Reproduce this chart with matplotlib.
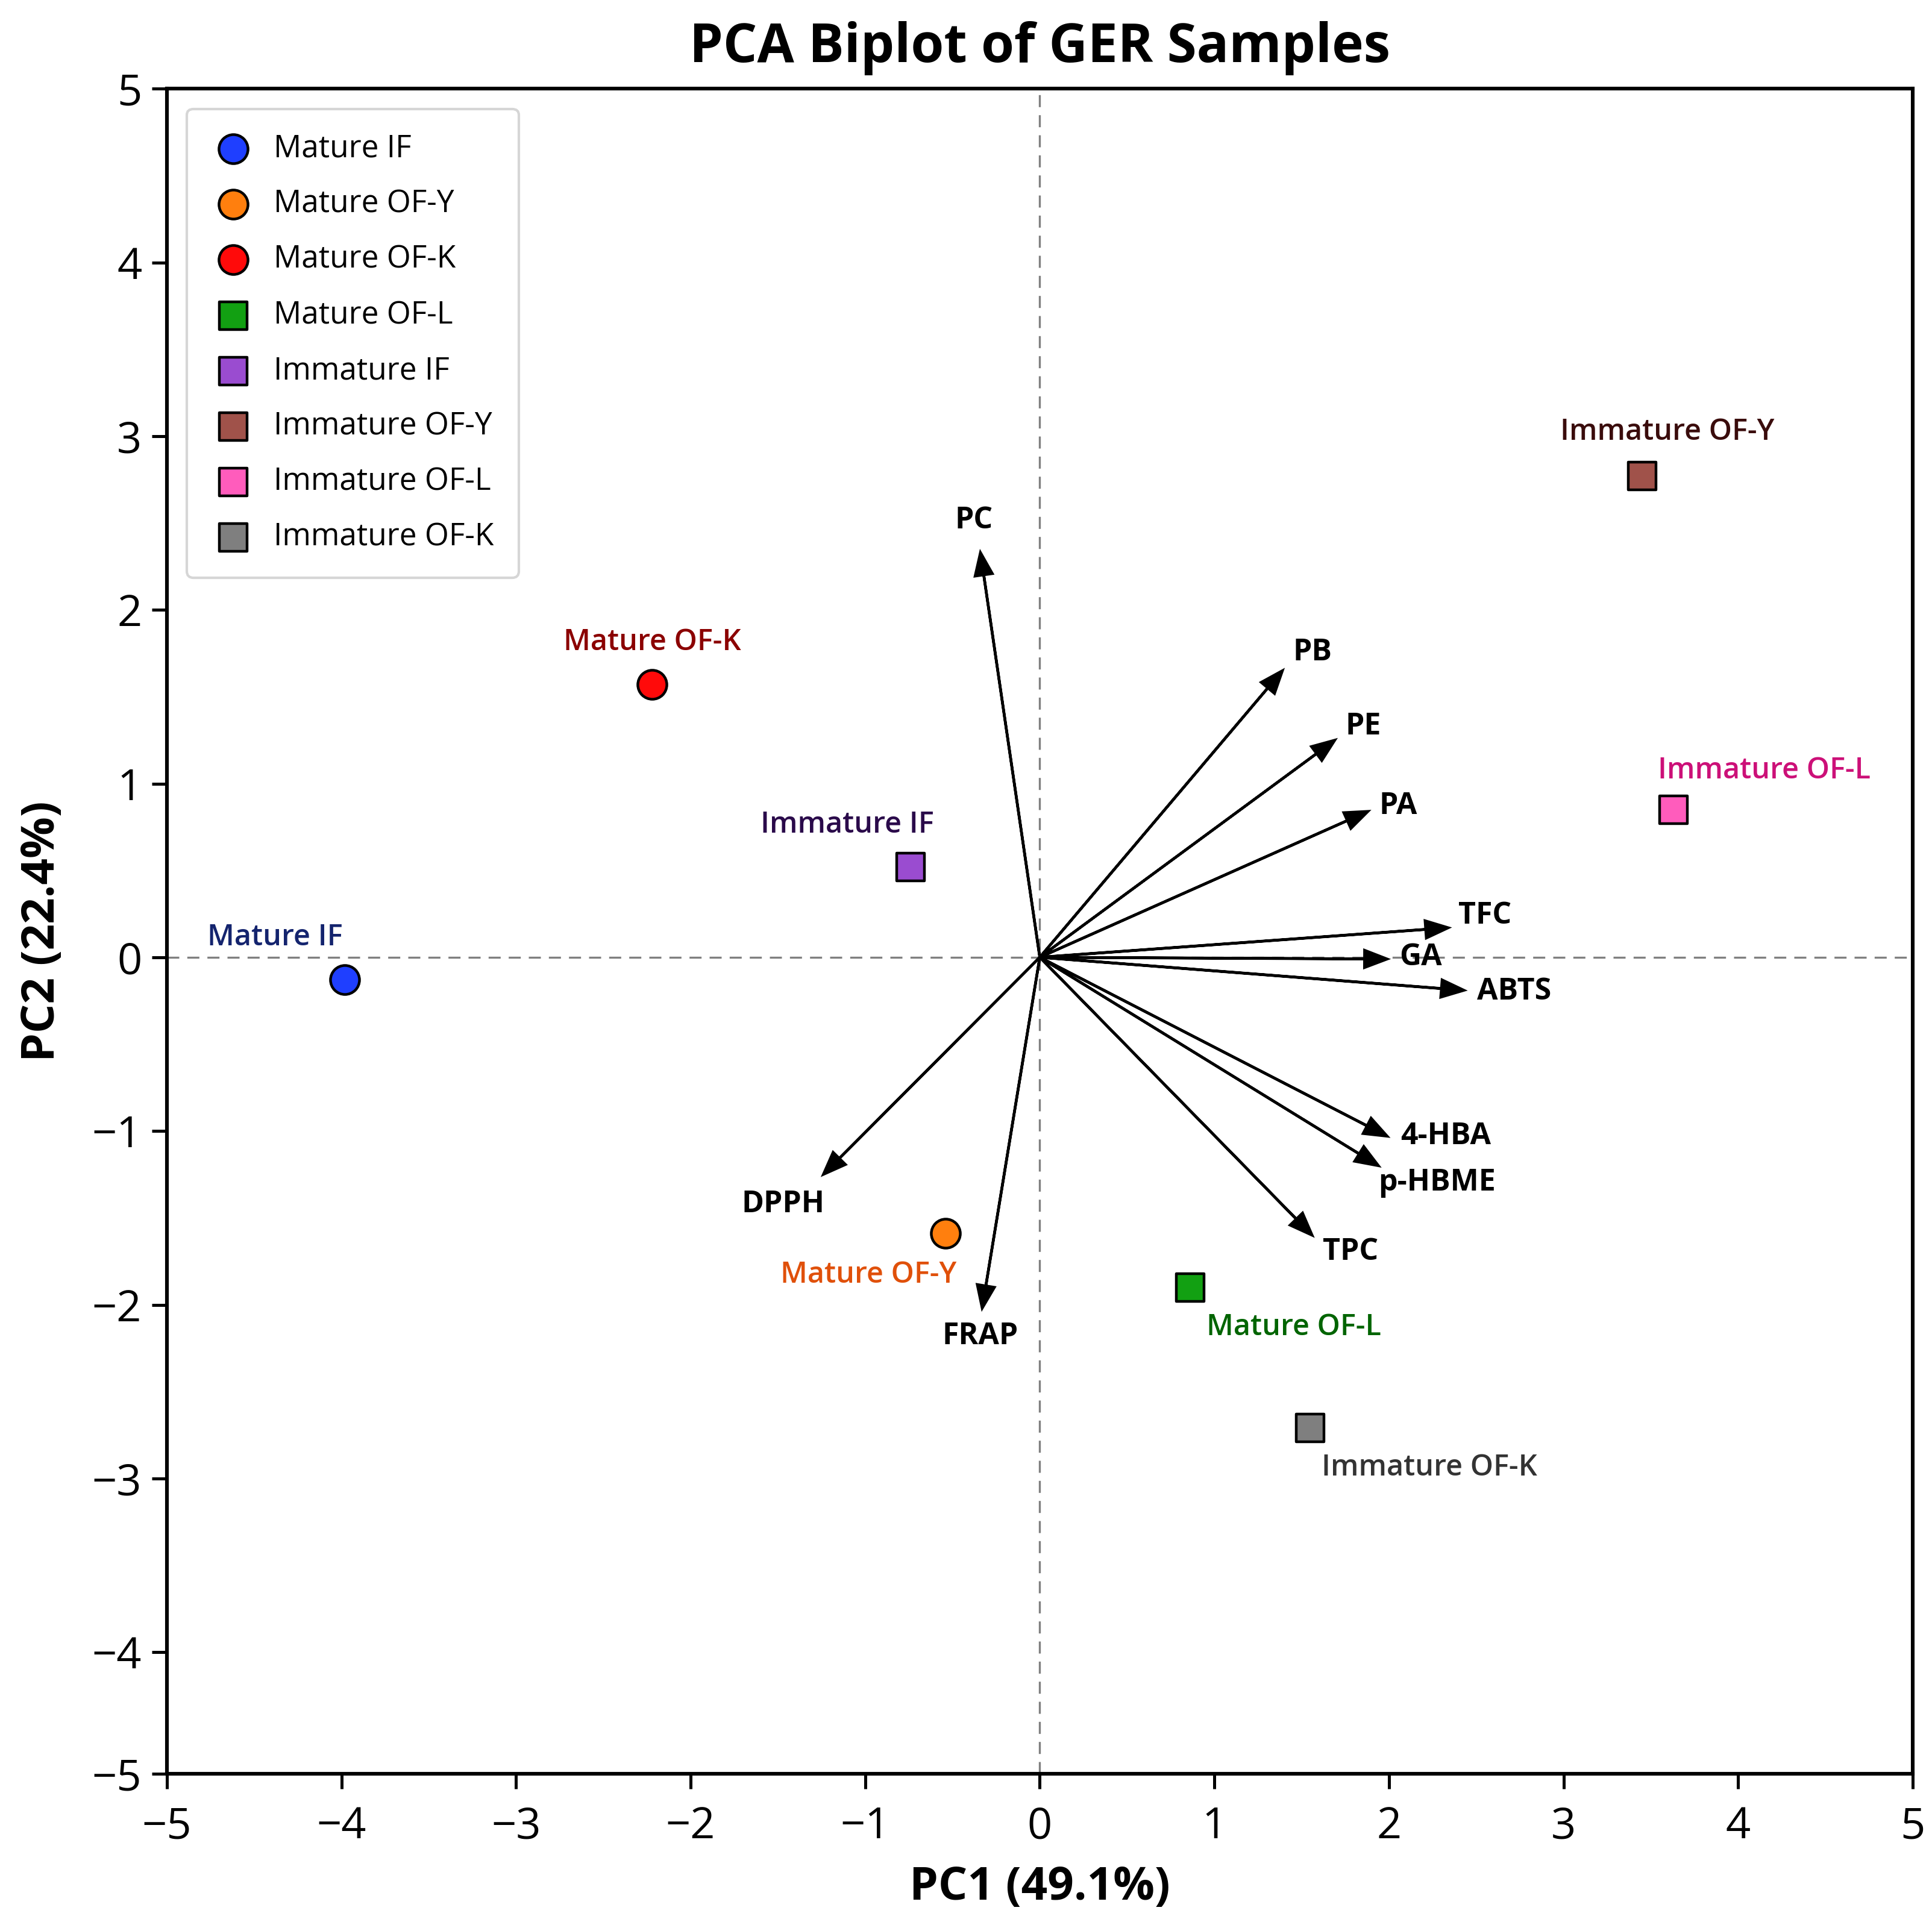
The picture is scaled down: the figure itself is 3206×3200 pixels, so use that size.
import matplotlib.pyplot as plt
import numpy as np

plt.rcParams['font.family'] = ['Open Sans', 'DejaVu Sans']

# sample scores (PC1, PC2)
samples = ['Mature IF', 'Mature OF-Y', 'Mature OF-K', 'Mature OF-L',
           'Immature IF', 'Immature OF-Y', 'Immature OF-L', 'Immature OF-K']
pc1 = [-3.98, -0.54, -2.22, 0.86, -0.74, 3.45, 3.63, 1.55]
pc2 = [-0.13, -1.59, 1.57, -1.90, 0.52, 2.77, 0.85, -2.71]

# variable loadings (scaled)
variables = ['PC', 'PB', 'PE', 'PA', 'TFC', 'GA', 'ABTS', '4-HBA', 'p-HBME', 'TPC', 'DPPH', 'FRAP']
load1 = [-0.34, 1.39, 1.69, 1.88, 2.34, 1.99, 2.43, 1.99, 1.94, 1.56, -1.24, -0.33]
load2 = [2.33, 1.65, 1.25, 0.84, 0.17, -0.01, -0.19, -1.03, -1.20, -1.60, -1.25, -2.02]

pc1_var = 49.1
pc2_var = 22.4

# styling
markers = ['o', 'o', 'o', 's', 's', 's', 's', 's']
face_colors = ['#1f3fff', '#ff7f0e', '#ff0a0a', '#12a012',
               '#9a4cd0', '#a0524a', '#ff5cbc', '#7f7f7f']
text_colors = ['#14246e', '#e0500a', '#8b0000', '#006400',
               '#2a0a4a', '#3a0c0c', '#cc1078', '#333333']
# label offsets in points (sample labels)
sample_offsets = [(-42, 25), (-46, -25), (0, 25), (62, -24),
                  (-38, 25), (15, 26), (54, 23), (71, -24)]
# label offsets in points (arrow labels)
var_offsets = [(-4, 19), (18, 11), (17, 8), (18, 3), (22, 7), (20, 1),
               (30, -1), (35, 0), (35, -10), (23, -10), (-24, -18), (-1, -17)]

fig = plt.figure(figsize=(16.03, 16), dpi=200)
ax = fig.add_axes([0.0864, 0.08, 0.9036, 0.874])

ax.axhline(0, color='gray', linestyle='--', linewidth=1.2, dashes=(6, 4), zorder=1)
ax.axvline(0, color='gray', linestyle='--', linewidth=1.2, dashes=(6, 4), zorder=1)

for i, name in enumerate(samples):
    ax.scatter(pc1[i], pc2[i], marker=markers[i], s=300 if markers[i] == 'o' else 270,
               c=face_colors[i], edgecolors='black', linewidths=1.6, label=name, zorder=4)
    ax.annotate(name, (pc1[i], pc2[i]), xytext=sample_offsets[i], textcoords='offset points',
                ha='center', va='center', fontsize=17.5, color=text_colors[i],
                fontweight='semibold', zorder=5)

for j, var in enumerate(variables):
    ax.arrow(0, 0, load1[j], load2[j], color='black', linewidth=1.6,
             head_width=0.1, head_length=0.13, length_includes_head=True, zorder=3)
    ax.annotate(var, (load1[j], load2[j]), xytext=var_offsets[j], textcoords='offset points',
                ha='center', va='center', fontsize=18, fontweight='bold', color='black', zorder=5)

ax.set_xlim(-5, 5)
ax.set_ylim(-4.7, 5)
ax.set_xticks(range(-5, 6))
ax.set_xticklabels([f'{v}'.replace('-', '\u2212') for v in range(-5, 6)])
ytick_pos = [-4.7] + list(range(-4, 6))
ax.set_yticks(ytick_pos)
ax.set_yticklabels([f'{v}'.replace('-', '\u2212') for v in range(-5, 6)])
ax.tick_params(labelsize=26, length=9, width=1.8)
ax.tick_params(axis='x', pad=10)
ax.tick_params(axis='y', pad=6)
for sp in ax.spines.values():
    sp.set_linewidth(2.2)

ax.set_xlabel(f'PC1 ({pc1_var}%)', fontsize=27.5, fontweight='bold', labelpad=10)
ax.set_ylabel(f'PC2 ({pc2_var}%)', fontsize=27.5, fontweight='bold', labelpad=16)
ax.set_title('PCA Biplot of GER Samples', fontsize=32, fontweight='bold', pad=16)

leg = ax.legend(loc='upper left', fontsize=18.5, frameon=True, borderaxespad=0.65,
                labelspacing=0.8, handletextpad=0.6, handlelength=1.4, borderpad=0.8)
leg.get_frame().set_edgecolor('#cccccc')
leg.get_frame().set_linewidth(1.5)

fig.savefig('out.png', dpi=200)
